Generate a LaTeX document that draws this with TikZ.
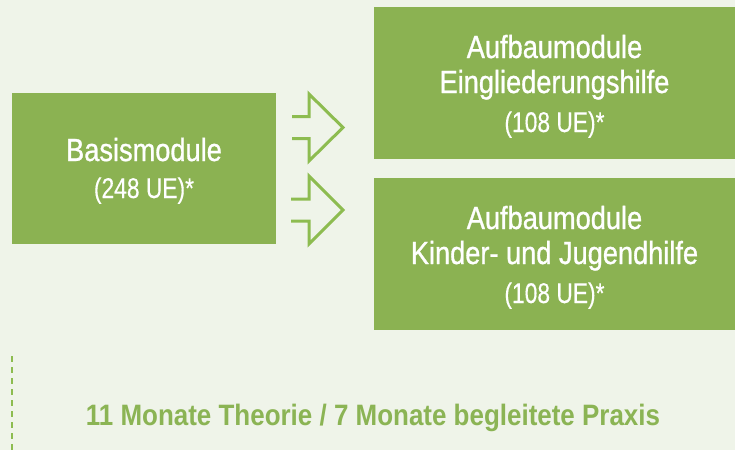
\documentclass[tikz,border=0pt]{standalone}
\usepackage{fontspec}
\newfontfamily\condfont{Liberation Sans}[FakeStretch=0.85,FakeBold=0.9]
\newfontfamily\narrowfont{Liberation Sans}[FakeStretch=0.8,FakeBold=0.3]
\newfontfamily\boldcond{Liberation Sans Bold}[FakeStretch=0.88]
\definecolor{bgc}{RGB}{239,244,233}
\definecolor{boxgreen}{RGB}{139,178,82}
\definecolor{arrgreen}{RGB}{141,188,80}
\definecolor{txtgreen}{RGB}{139,180,84}
\tikzset{
  modbox/.style={fill=boxgreen, draw=none, inner sep=0pt, anchor=north west},
  ttl/.style={text=white, inner sep=0pt, anchor=base, font=\condfont\fontsize{32}{36}\selectfont},
  uel/.style={text=white, inner sep=0pt, anchor=base, font=\narrowfont\fontsize{28.5}{32}\selectfont},
  bottomtxt/.style={text=txtgreen, inner sep=0pt, anchor=base, font=\boldcond\fontsize{29.5}{33}\selectfont},
  openarrow/.style={draw=arrgreen, line width=3pt, miter limit=10, line join=miter},
  dashline/.style={draw=arrgreen, line width=2.3pt, dash pattern=on 6pt off 5pt}
}
\begin{document}
\begin{tikzpicture}[x=1pt,y=-1pt]
\fill[bgc] (0,0) rectangle (735,450);
\useasboundingbox (0,0) rectangle (735,450);

% boxes
\node[modbox, minimum width=264pt, minimum height=151pt] (basis) at (12,93) {};
\node[modbox, minimum width=361pt, minimum height=152pt] (eingl) at (374,7) {};
\node[modbox, minimum width=361pt, minimum height=152pt] (kjh) at (374,178) {};

% texts
\node[ttl] (basisA) at (144,161) {Basismodule};
\node[uel] (basisB) at (144,198) {(248 UE)*};

\node[ttl] (einglA) at (554.5,58) {Aufbaumodule};
\node[ttl] (einglB) at (554.5,93) {Eingliederungshilfe};
\node[uel] (einglC) at (554.5,132) {(108 UE)*};

\node[ttl] (kjhA) at (554.5,229) {Aufbaumodule};
\node[ttl] (kjhB) at (554.5,264) {Kinder- und Jugendhilfe};
\node[uel] (kjhC) at (554.5,303) {(108 UE)*};

% open arrows
\coordinate (a1) at (292,116.5);
\coordinate (a2) at (291,199);
\draw[openarrow] (a1) -- ++(17,0) -- (309,94) -- (343,127.5) -- (309,161) -- (309,138.5) -- (292,138.5);
\draw[openarrow] (a2) -- ++(18,0) -- (309,176) -- (343,210) -- (309,244) -- (309,221) -- (291,221);

% dashed line
\coordinate (d1) at (12.3,356);
\coordinate (d2) at (12.3,450);
\draw[dashline] (d1) -- (d2);

% bottom text
\node[bottomtxt] (dauer) at (373,425) {11 Monate Theorie / 7 Monate begleitete Praxis};
\end{tikzpicture}
\end{document}
